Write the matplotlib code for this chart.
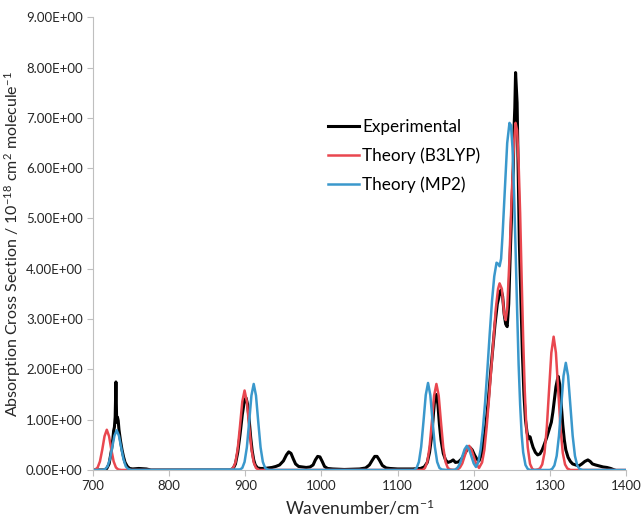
import matplotlib
matplotlib.use("Agg")
import matplotlib.pyplot as plt
from matplotlib.ticker import FuncFormatter

# ── 数据──────────────────────────────────────────────────────────────

exp_x = [700, 715, 718, 721, 724, 726, 727, 728, 729, 730, 731, 732, 733, 734, 736, 738,
         740, 742, 745, 748, 752, 760, 770, 776,
         880, 884, 887, 890, 893, 896, 899, 901, 903, 905, 907, 909, 911, 913, 916, 920,
         925, 930, 935, 940, 945, 950, 954, 957, 960, 963, 966, 970, 975, 980, 985, 989,
         992, 995, 998, 1001, 1004, 1008, 1015, 1030, 1050, 1058, 1063, 1067, 1070, 1073,
         1076, 1080, 1085, 1090, 1100, 1110, 1120, 1130, 1135, 1139, 1142, 1145, 1147,
         1149, 1151, 1153, 1155, 1157, 1160, 1163, 1166, 1170, 1173, 1176, 1180, 1184,
         1188, 1192, 1195, 1198, 1201, 1204, 1207, 1210, 1213, 1216, 1219, 1222, 1225,
         1228, 1231, 1234, 1236, 1238, 1240, 1242, 1244, 1246, 1248, 1250, 1252, 1253,
         1254, 1255, 1256, 1257, 1258, 1259, 1260, 1262, 1264, 1266, 1268, 1270, 1272,
         1274, 1276, 1278, 1281, 1284, 1287, 1290, 1293, 1296, 1299, 1302, 1304, 1306,
         1308, 1310, 1311, 1313, 1315, 1317, 1319, 1321, 1324, 1327, 1330, 1334, 1338,
         1342, 1346, 1350, 1353, 1356, 1360, 1365, 1370, 1375, 1380, 1385]
exp_y = [0.0, 0.0, 0.03, 0.12, 0.38, 0.62, 0.78, 0.85, 1.05, 1.75, 0.95, 1.05, 0.98, 0.8, 0.58, 0.4,
         0.26, 0.15, 0.07, 0.03, 0.02, 0.03, 0.02, 0.0,
         0.0, 0.03, 0.12, 0.35, 0.7, 1.1, 1.4, 1.43, 1.3, 1.0, 0.65, 0.38, 0.2, 0.1, 0.04, 0.03,
         0.03, 0.04, 0.05, 0.07, 0.1, 0.18, 0.3, 0.36, 0.33, 0.22, 0.12, 0.07, 0.06, 0.05, 0.06, 0.1,
         0.2, 0.27, 0.26, 0.17, 0.07, 0.03, 0.02, 0.01, 0.02, 0.04, 0.1, 0.2, 0.27, 0.27,
         0.2, 0.09, 0.04, 0.03, 0.02, 0.02, 0.02, 0.03, 0.06, 0.15, 0.35, 0.7, 1.1,
         1.45, 1.5, 1.3, 0.9, 0.6, 0.33, 0.2, 0.15, 0.17, 0.2, 0.15, 0.16, 0.22,
         0.32, 0.42, 0.45, 0.4, 0.3, 0.22, 0.18, 0.3, 0.55, 0.9, 1.35, 1.9, 2.4,
         2.9, 3.3, 3.5, 3.58, 3.45, 3.1, 2.9, 2.85, 3.3, 4.3, 5.2, 6.0, 6.8,
         7.2, 7.9, 7.6, 7.3, 6.4, 5.4, 4.5, 3.4, 2.3, 1.5, 1.0, 0.75, 0.62,
         0.66, 0.55, 0.45, 0.35, 0.3, 0.32, 0.4, 0.52, 0.65, 0.8, 0.95, 1.15, 1.4,
         1.65, 1.8, 1.86, 1.7, 1.3, 0.9, 0.6, 0.4, 0.25, 0.17, 0.12, 0.1, 0.08,
         0.12, 0.17, 0.2, 0.17, 0.12, 0.1, 0.08, 0.06, 0.05, 0.03, 0.0]

b3lyp_x = [700, 703, 706, 709, 712, 715, 718, 721, 724, 727, 730, 733, 737,
           880, 884, 887, 890, 893, 896, 899, 902, 905, 908, 911, 914, 918,
           1133, 1136, 1139, 1142, 1145, 1148, 1151, 1154, 1157, 1160, 1163, 1166, 1169,
           1176, 1179, 1182, 1185, 1188, 1191, 1194, 1197, 1200, 1203, 1207, 1211, 1214,
           1217, 1220, 1223, 1226, 1229, 1232, 1234, 1237, 1240, 1242, 1244, 1247, 1250,
           1253, 1255, 1257, 1259, 1261, 1263, 1265, 1267, 1269, 1271, 1274, 1277, 1280,
           1284, 1287, 1290, 1293, 1296, 1299, 1302, 1305, 1308, 1311, 1314, 1317, 1320,
           1323, 1327, 1400]
b3lyp_y = [0.0, 0.01, 0.05, 0.17, 0.4, 0.67, 0.8, 0.67, 0.4, 0.17, 0.05, 0.01, 0.0,
           0.0, 0.04, 0.15, 0.42, 0.875, 1.36, 1.58, 1.36, 0.875, 0.42, 0.15, 0.04, 0.0,
           0.0, 0.04, 0.16, 0.45, 0.95, 1.48, 1.71, 1.48, 0.95, 0.45, 0.16, 0.04, 0.01,
           0.0, 0.01, 0.05, 0.13, 0.27, 0.41, 0.48, 0.41, 0.27, 0.13, 0.04, 0.15, 0.4,
           0.85, 1.4, 2.0, 2.6, 3.2, 3.6, 3.71, 3.6, 3.1, 2.98, 3.2, 4.2, 5.5,
           6.5, 6.9, 6.75, 6.1, 5.1, 3.8, 2.6, 1.6, 0.9, 0.45, 0.12, 0.02, 0.0,
           0.01, 0.03, 0.11, 0.34, 0.84, 1.59, 2.33, 2.65, 2.33, 1.59, 0.84, 0.34, 0.11,
           0.03, 0.0, 0.0]

mp2_x = [700, 713, 716, 719, 722, 725, 728, 731, 734, 737, 740, 743, 746, 750,
         893, 896, 899, 902, 905, 908, 911, 914, 917, 920, 923, 926, 929, 932,
         1122, 1125, 1128, 1131, 1134, 1137, 1140, 1143, 1146, 1149, 1152, 1155, 1158, 1165,
         1173, 1176, 1179, 1182, 1185, 1188, 1191, 1194, 1197, 1200, 1203, 1206, 1209,
         1212, 1215, 1218, 1221, 1224, 1227, 1230, 1232, 1234, 1236, 1238, 1241, 1244,
         1247, 1249, 1251, 1253, 1255, 1257, 1259, 1261, 1263, 1265, 1268, 1271, 1274,
         1300, 1303, 1306, 1309, 1312, 1315, 1318, 1321, 1324, 1327, 1330, 1333, 1336,
         1339, 1343, 1400]
mp2_y = [0.0, 0.0, 0.02, 0.07, 0.21, 0.44, 0.68, 0.79, 0.68, 0.44, 0.21, 0.07, 0.02, 0.0,
         0.01, 0.04, 0.16, 0.45, 0.95, 1.48, 1.71, 1.48, 0.95, 0.45, 0.16, 0.04, 0.01, 0.0,
         0.0, 0.04, 0.16, 0.46, 0.96, 1.49, 1.73, 1.49, 0.96, 0.46, 0.16, 0.04, 0.01, 0.0,
         0.0, 0.01, 0.05, 0.13, 0.27, 0.41, 0.48, 0.41, 0.27, 0.13, 0.06, 0.15, 0.4,
         0.8, 1.35, 2.0, 2.7, 3.35, 3.85, 4.12, 4.1, 4.05, 4.2, 4.7, 5.6, 6.5,
         6.9, 6.85, 6.4, 5.5, 4.4, 3.2, 2.1, 1.3, 0.7, 0.35, 0.1, 0.02, 0.0,
         0.0, 0.02, 0.09, 0.28, 0.68, 1.28, 1.87, 2.13, 1.87, 1.28, 0.68, 0.28, 0.09,
         0.02, 0.0, 0.0]

x_ticks = [700, 800, 900, 1000, 1100, 1200, 1300, 1400]
y_ticks = [0, 1, 2, 3, 4, 5, 6, 7, 8, 9]

# ── 绘图 ──────────────────────────────────────────────────────────────────────

plt.rcParams["font.family"] = ["Lato", "DejaVu Sans"]
plt.rcParams["mathtext.fontset"] = "custom"
plt.rcParams["mathtext.rm"] = "Lato"
plt.rcParams["mathtext.default"] = "regular"

fig = plt.figure(figsize=(6.42, 5.18), dpi=100)
ax = fig.add_axes([0.145, 0.0927, 0.830, 0.874])

ax.plot(exp_x, exp_y, color="black", linewidth=2.2, label="Experimental")
ax.plot(b3lyp_x, b3lyp_y, color="#E9474F", linewidth=1.8, label="Theory (B3LYP)")
ax.plot(mp2_x, mp2_y, color="#3A98CC", linewidth=1.8, label="Theory (MP2)")

ax.set_xlim(700, 1400)
ax.set_ylim(0, 9)
ax.set_xticks(x_ticks)
ax.set_yticks(y_ticks)
ax.yaxis.set_major_formatter(FuncFormatter(lambda v, p: f"{v:.2E}"))

for s in ["top", "right"]:
    ax.spines[s].set_visible(False)
for s in ["left", "bottom"]:
    ax.spines[s].set_color("#BFBFBF")
    ax.spines[s].set_linewidth(0.8)
ax.tick_params(colors="#BFBFBF", labelcolor="#262626", labelsize=9.5, length=4, width=0.8)

ax.set_xlabel("Wavenumber/cm$^{-1}$", fontsize=12.5, color="#262626", labelpad=4)
ax.set_ylabel("Absorption Cross Section / 10$^{-18}$ cm$^{2}$ molecule$^{-1}$",
              fontsize=11.5, color="#262626", labelpad=2)

ax.legend(loc="center left", bbox_to_anchor=(328 / 642, 1 - 156 / 518),
          bbox_transform=fig.transFigure, frameon=False, fontsize=12.3,
          handlelength=1.8, handletextpad=0.2, labelspacing=0.75,
          borderpad=0, borderaxespad=0)

plt.savefig("out.png", dpi=100)
plt.close()
